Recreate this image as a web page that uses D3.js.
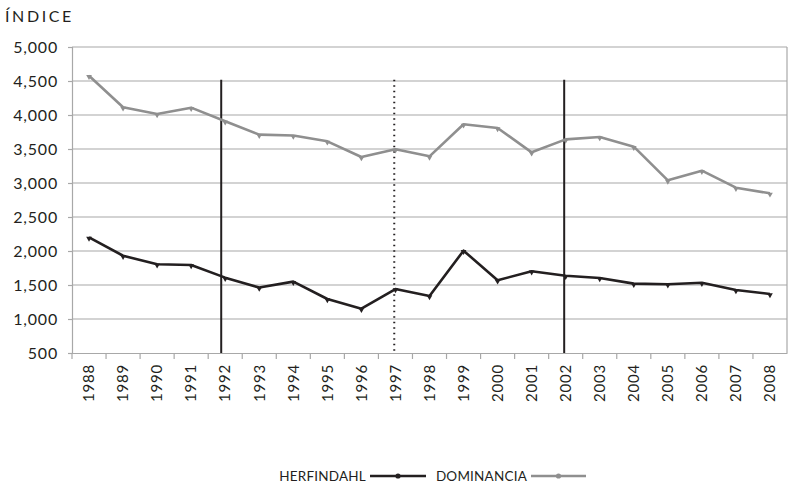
<!DOCTYPE html>
<html><head><meta charset="utf-8">
<script src="https://cdn.jsdelivr.net/npm/d3@7"></script>
<style>body{margin:0;background:#fff}text{font-family:Lato,"Open Sans",sans-serif;fill:#231f20}</style>
</head><body><svg id="c" width="788" height="492"></svg>
<script>
const years = ["1988","1989","1990","1991","1992","1993","1994","1995","1996","1997","1998","1999","2000","2001","2002","2003","2004","2005","2006","2007","2008"];
const herfindahl = [2200,1930,1805,1795,1608,1462,1550,1294,1152,1441,1338,2005,1569,1703,1637,1603,1520,1512,1534,1426,1368];
const dominancia = [4578,4113,4015,4108,3907,3711,3698,3613,3382,3495,3392,3863,3809,3451,3642,3676,3534,3039,3181,2931,2848];
const yTicks = [500,1000,1500,2000,2500,3000,3500,4000,4500,5000];
const markerYears = ["1992","1997","2002"];
const markerStyles = ["solid","dotted","solid"];
const seriesNames = ["HERFINDAHL","DOMINANCIA"];
const seriesColors = ["#231f20","#8f8f8f"];

const svg = d3.select("#c");
const L=72, R=787, T=47, B=353;
const x = d3.scaleBand().domain(years).range([L,R]);
const y = d3.scaleLinear().domain([500,5000]).range([B,T]);
const cx = d => x(d)+x.bandwidth()/2;

// gridlines
svg.append("g").selectAll("line").data(yTicks.filter(v=>v>500)).join("line")
  .attr("x1",L).attr("x2",R).attr("y1",d=>y(d)).attr("y2",d=>y(d))
  .attr("stroke","#a8a8a8").attr("stroke-width",1.2);
// right border
svg.append("line").attr("x1",R).attr("x2",R).attr("y1",T).attr("y2",B).attr("stroke","#a8a8a8").attr("stroke-width",1.2);

// y axis
const ya = svg.append("g").attr("transform",`translate(${L},0)`)
  .call(d3.axisLeft(y).tickValues(yTicks).tickFormat(d3.format(",")).tickSize(4).tickPadding(10));
ya.select(".domain").attr("stroke","#a8a8a8").attr("stroke-width",1.2);
ya.selectAll(".tick line").attr("stroke","#a8a8a8").attr("stroke-width",1.2);
ya.selectAll("text").attr("font-size",16).attr("letter-spacing","0.8px").attr("fill","#231f20").style("font-family","Lato,sans-serif");

// x axis
const xa = svg.append("g").attr("transform",`translate(0,${B})`)
  .call(d3.axisBottom(x).tickSize(0).tickPadding(0));
xa.select(".domain").attr("stroke","#a8a8a8").attr("stroke-width",1.2);
xa.selectAll(".tick text").attr("font-size",15).attr("letter-spacing","0.8px").attr("fill","#231f20")
  .style("font-family","Lato,sans-serif")
  .attr("text-anchor","end").attr("dy","0.35em")
  .attr("transform","translate(0,11) rotate(-90)");
// x ticks at band boundaries
svg.append("g").selectAll("line").data(years).join("line")
  .attr("x1",d=>x(d)).attr("x2",d=>x(d)).attr("y1",B).attr("y2",B+6)
  .attr("stroke","#a8a8a8").attr("stroke-width",1.2);

// vertical markers
const offs = [-4,-1.2,-1.5];
svg.append("g").selectAll("line").data(markerYears).join("line")
  .attr("x1",(d,i)=>cx(d)+offs[i]).attr("x2",(d,i)=>cx(d)+offs[i])
  .attr("y1",y(4520)).attr("y2",B)
  .attr("stroke","#231f20").attr("stroke-width",2)
  .attr("stroke-dasharray",(d,i)=>markerStyles[i]==="dotted"?"1.5,4":null);

// series
const line = d3.line().x((d,i)=>cx(years[i])).y(d=>y(d));
[herfindahl,dominancia].forEach((s,k)=>{
  svg.append("path").datum(s).attr("d",line).attr("fill","none")
    .attr("stroke",seriesColors[k]).attr("stroke-width",2.6).attr("stroke-linejoin","round");
  svg.append("g").selectAll("path").data(s).join("path")
    .attr("d",d3.symbol(d3.symbolTriangle,14))
    .attr("transform",(d,i)=>`translate(${cx(years[i])},${y(d)+1}) rotate(180)`)
    .attr("fill",seriesColors[k]);
});

// title
svg.append("text").attr("x",5).attr("y",22).attr("font-size",16).attr("letter-spacing","2.6px").text("ÍNDICE");

// legend
const lg = [{tx:366,lx1:370,lx2:426},{tx:527,lx1:531,lx2:586}];
lg.forEach((g,k)=>{
  svg.append("text").attr("x",g.tx).attr("y",481).attr("text-anchor","end")
    .attr("font-size",13.5).attr("letter-spacing","0.2px").text(seriesNames[k]);
  svg.append("line").attr("x1",g.lx1).attr("x2",g.lx2).attr("y1",476).attr("y2",476)
    .attr("stroke",seriesColors[k]).attr("stroke-width",2.6);
  svg.append("circle").attr("cx",(g.lx1+g.lx2)/2).attr("cy",476).attr("r",2.6).attr("fill",seriesColors[k]);
});
</script></body></html>
